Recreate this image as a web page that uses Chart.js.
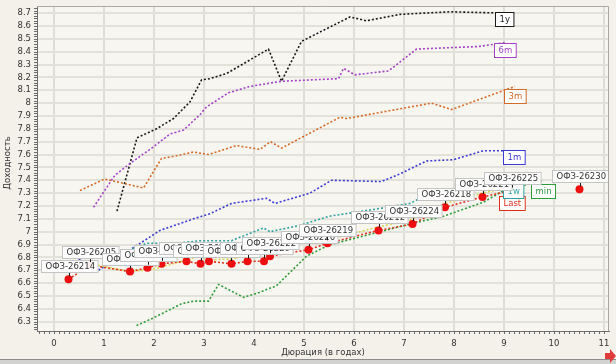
<!DOCTYPE html>
<html>
<head>
<meta charset="utf-8">
<script src="https://cdn.jsdelivr.net/npm/chart.js@4.4.1/dist/chart.umd.min.js"></script>
<style>
    html, body { margin: 0; padding: 0; background: #f3f1ea; }
    #wrap { width: 616px; height: 364px; }
</style>
</head>
<body>
<div id="wrap"><canvas id="graphCanvasYield" width="616" height="364"></canvas></div>
<script>
// кривые доходности ОФЗ: дюрация (лет) / доходность (%)
var dur1y = [1.26, 1.66, 2.05, 2.39, 2.72, 2.95, 3.12, 3.45, 3.85, 4.29, 4.55, 4.95, 5.92, 6.25, 6.92, 7.92, 9.0];
var yld1y = [7.16, 7.73, 7.80, 7.88, 8.01, 8.18, 8.19, 8.23, 8.32, 8.42, 8.17, 8.48, 8.67, 8.64, 8.69, 8.71, 8.70];

var dur6m = [0.79, 1.22, 1.52, 1.99, 2.32, 2.59, 2.92, 3.05, 3.49, 3.92, 4.55, 5.69, 5.79, 6.02, 6.69, 7.25, 8.49, 9.02];
var yld6m = [7.19, 7.44, 7.53, 7.66, 7.76, 7.79, 7.91, 7.97, 8.08, 8.13, 8.17, 8.19, 8.27, 8.22, 8.25, 8.42, 8.44, 8.47];

var dur3m = [0.52, 1.01, 1.79, 2.15, 2.45, 2.79, 3.09, 3.65, 4.12, 4.33, 4.55, 5.72, 5.85, 7.55, 7.95, 9.22];
var yld3m = [7.32, 7.41, 7.34, 7.57, 7.59, 7.62, 7.60, 7.67, 7.64, 7.70, 7.65, 7.89, 7.88, 8.00, 7.95, 8.13];

var dur1m = [0.30, 0.85, 2.12, 2.79, 3.12, 3.55, 4.25, 4.42, 5.12, 5.55, 6.55, 6.92, 7.45, 7.99, 8.59, 9.19];
var yld1m = [6.84, 6.69, 7.01, 7.10, 7.14, 7.22, 7.26, 7.22, 7.30, 7.40, 7.39, 7.45, 7.55, 7.56, 7.63, 7.63];

var dur1w = [0.29, 1.52, 1.85, 2.45, 2.92, 3.55, 4.19, 4.32, 4.92, 5.50, 6.50, 7.12, 7.52, 8.45, 9.19];
var yld1w = [6.86, 6.86, 6.91, 6.91, 6.93, 6.93, 7.03, 7.00, 7.05, 7.12, 7.18, 7.22, 7.30, 7.35, 7.39];

var durMin = [1.65, 1.99, 2.55, 2.79, 3.09, 3.29, 3.79, 4.05, 4.45, 5.05, 5.52, 6.52, 7.12, 7.79, 8.59, 8.99, 9.79];
var yldMin = [6.27, 6.33, 6.44, 6.46, 6.46, 6.59, 6.49, 6.52, 6.58, 6.81, 6.90, 7.00, 7.06, 7.12, 7.23, 7.32, 7.40];

var dur1d = [0.72, 1.52, 2.00, 2.19, 2.92, 3.10, 3.59, 4.32, 4.92, 5.72, 6.52, 7.12, 7.82, 8.57, 9.00];
var yld1d = [6.75, 6.69, 6.71, 6.73, 6.81, 6.78, 6.79, 6.88, 6.95, 6.96, 7.04, 7.09, 7.22, 7.30, 7.34];

// последние сделки по выпускам
var durLast = [0.29, 0.72, 1.52, 1.87, 2.15, 2.65, 2.93, 3.10, 3.55, 3.87, 4.20, 4.32, 5.09, 5.47, 6.49, 7.17, 7.82, 8.57, 9.15];
var yldLast = [6.63, 6.74, 6.69, 6.72, 6.75, 6.77, 6.75, 6.77, 6.75, 6.77, 6.77, 6.81, 6.86, 6.91, 7.01, 7.06, 7.19, 7.27, 7.32];
var bondLast = ['ОФЗ-26214', 'ОФЗ-26205', 'ОФЗ-26217', 'ОФЗ-26209', 'ОФЗ-26220', 'ОФЗ-26211', 'ОФЗ-26215',
    'ОФЗ-26223', 'ОФЗ-26227', 'ОФЗ-26216', 'ОФЗ-26229', 'ОФЗ-26222', 'ОФЗ-26226', 'ОФЗ-26219', 'ОФЗ-26212',
    'ОФЗ-26224', 'ОФЗ-26218', 'ОФЗ-26221', 'ОФЗ-26225'];
var durLong = [10.51];
var yldLong = [7.33];
var bondLong = ['ОФЗ-26230'];

var xTitle = 'Дюрация (в годах)';
var yTitle = 'Доходность';

function pts(xs, ys) {
    var out = [];
    for (var i in xs) {
        out.push({x: xs[i], y: ys[i]});
    }
    return out;
}

function curve(label, xs, ys, color, tagDy) {
    return {
        label: label,
        data: pts(xs, ys),
        showLine: true,
        borderColor: color,
        backgroundColor: color,
        borderWidth: 1.6,
        borderDash: [2, 2],
        pointRadius: 0,
        tag: tagDy !== null,
        tagDy: tagDy
    };
}

var FONT = 'DejaVu Sans';

var lastSet = curve('Last', durLast, yldLast, '#e0301c', 5);
lastSet.pointRadius = 4;
lastSet.pointBackgroundColor = '#ee1010';
lastSet.pointBorderWidth = 0;
lastSet.bonds = bondLast;

var longSet = {
    label: 'Long',
    data: pts(durLong, yldLong),
    showLine: false,
    pointRadius: 4,
    pointBackgroundColor: '#ee1010',
    pointBorderWidth: 0,
    bonds: bondLong
};

var datasets = [
    lastSet,
    longSet,
    curve('1d', dur1d, yld1d, '#d6d64c', null),
    curve('min', durMin, yldMin, '#2e9c3a', 4),
    curve('1w', dur1w, yld1w, '#2ea2a2', 2),
    curve('1m', dur1m, yld1m, '#3c3cd4', -1),
    curve('3m', dur3m, yld3m, '#d66a28', 3),
    curve('6m', dur6m, yld6m, '#a442c6', 0),
    curve('1y', dur1y, yld1y, '#1a1a1a', -1)
];

var yieldDecor = {
    id: 'yieldDecor',
    beforeDraw: function(chart) {
        var ctx = chart.ctx, a = chart.chartArea;
        ctx.save();
        ctx.fillStyle = '#f3f1ea';
        ctx.fillRect(0, 0, chart.width, chart.height);
        ctx.fillStyle = '#f8f6f1';
        ctx.fillRect(a.left, a.top, a.right - a.left, a.bottom - a.top);
        ctx.restore();
    },
    afterDatasetsDraw: function(chart) {
        var ctx = chart.ctx, a = chart.chartArea;
        var xs = chart.scales.x, ys = chart.scales.y;
        ctx.save();
        ctx.beginPath();
        ctx.rect(a.left, a.top, a.right - a.left, a.bottom - a.top);
        ctx.clip();
        ctx.textBaseline = 'middle';

        // подписи кривых на концах
        ctx.font = '8.5px "' + FONT + '"';
        chart.data.datasets.forEach(function(ds) {
            if (!ds.tag) return;
            var p = ds.data[ds.data.length - 1];
            var px = xs.getPixelForValue(p.x), py = ys.getPixelForValue(p.y);
            var w = ctx.measureText(ds.label).width + 8, h = 14;
            var left = Math.round(px - w / 2) + 0.5, top = Math.round(py + ds.tagDy) + 0.5;
            ctx.fillStyle = '#ffffff';
            ctx.fillRect(left, top, w, h);
            ctx.strokeStyle = ds.borderColor;
            ctx.lineWidth = 1;
            ctx.strokeRect(left, top, w, h);
            ctx.fillStyle = ds.borderColor;
            ctx.textAlign = 'center';
            ctx.fillText(ds.label, left + w / 2, top + h / 2 + 0.5);
        });

        // выноски с названиями выпусков
        ctx.font = '8.5px "' + FONT + '"';
        [lastSet, longSet].forEach(function(ds) {
            ds.data.forEach(function(p, i) {
                var px = Math.round(xs.getPixelForValue(p.x)), py = ys.getPixelForValue(p.y);
                var txt = ds.bonds[i];
                var w = ctx.measureText(txt).width + 7, h = 12;
                var bottom = Math.round(py - 7);
                var left = Math.round(px - w / 2) + 0.5, top = bottom - h + 0.5;
                ctx.fillStyle = 'rgba(255,255,255,0.95)';
                ctx.fillRect(left, top, w, h);
                ctx.strokeStyle = '#c4c4c4';
                ctx.lineWidth = 1;
                ctx.strokeRect(left, top, w, h);
                ctx.fillStyle = '#333333';
                ctx.textAlign = 'left';
                ctx.fillText(txt, left + 4, top + h / 2 + 0.5);
                ctx.strokeStyle = '#1a1a1a';
                ctx.beginPath();
                ctx.moveTo(px + 0.5, bottom + 1);
                ctx.lineTo(px + 0.5, py - 3);
                ctx.stroke();
            });
        });
        ctx.restore();
    },
    afterDraw: function(chart) {
        var ctx = chart.ctx, a = chart.chartArea;
        var xs = chart.scales.x, ys = chart.scales.y;
        ctx.save();
        // рамка сверху и справа
        ctx.strokeStyle = '#a8a8a2';
        ctx.lineWidth = 1;
        ctx.beginPath();
        ctx.moveTo(a.left, a.top + 0.5);
        ctx.lineTo(a.right - 0.5, a.top + 0.5);
        ctx.lineTo(a.right - 0.5, a.bottom);
        ctx.stroke();

        // мелкие засечки
        ctx.strokeStyle = '#6a6a6a';
        ctx.beginPath();
        for (var t = -3; t <= 111; t++) {
            var x = Math.round(xs.getPixelForValue(t / 10)) + 0.5;
            if (x < a.left || x > a.right) continue;
            ctx.moveTo(x, a.bottom);
            ctx.lineTo(x, a.bottom + 3);
        }
        for (var k = 312; k <= 437; k++) {
            var y = Math.round(ys.getPixelForValue(k / 50)) + 0.5;
            if (y < a.top || y > a.bottom) continue;
            ctx.moveTo(a.left - 3, y);
            ctx.lineTo(a.left, y);
        }
        ctx.stroke();

        // названия осей
        ctx.fillStyle = '#333333';
        ctx.font = '8.5px "' + FONT + '"';
        ctx.textAlign = 'center';
        ctx.textBaseline = 'middle';
        ctx.fillText(xTitle, (a.left + a.right) / 2, 353);
        ctx.translate(8, 163);
        ctx.rotate(-Math.PI / 2);
        ctx.fillText(yTitle, 0, 0);
        ctx.setTransform(1, 0, 0, 1, 0, 0);

        // нижняя полоса окна и значок
        ctx.fillStyle = '#8c8c8c';
        ctx.fillRect(0, 359, chart.width, 1);
        ctx.fillStyle = '#d2d2d0';
        ctx.fillRect(0, 360, chart.width, 4);
        ctx.fillStyle = '#e03a3a';
        ctx.fillRect(605, 353, 6, 6);
        ctx.beginPath();
        ctx.moveTo(610, 349);
        ctx.lineTo(616, 356);
        ctx.lineTo(610, 363);
        ctx.closePath();
        ctx.fill();
        ctx.restore();
    }
};

var tickFont = {family: FONT, size: 8.5};

var graphTarget = document.getElementById('graphCanvasYield');
var yieldChart = new Chart(graphTarget, {
    type: 'scatter',
    data: {datasets: datasets},
    options: {
        responsive: false,
        animation: false,
        layout: {padding: {left: 0, right: 7, top: 6, bottom: 0}},
        plugins: {
            legend: {display: false},
            tooltip: {enabled: false}
        },
        scales: {
            x: {
                type: 'linear',
                min: -0.34,
                max: 11.1,
                ticks: {stepSize: 1, includeBounds: false, padding: 8, color: '#333333', font: tickFont, maxRotation: 0, autoSkip: false},
                grid: {color: '#deddd6', lineWidth: 2, drawTicks: false},
                border: {display: true, color: '#6e6e6e', width: 1},
                afterFit: function(s) { s.height = 33; s.paddingLeft = 0; s.paddingRight = 0; }
            },
            y: {
                type: 'linear',
                min: 6.228,
                max: 8.755,
                ticks: {
                    stepSize: 0.1, includeBounds: false, padding: 6, color: '#333333', font: tickFont, autoSkip: false,
                    callback: function(v) { return String(+v.toFixed(1)); }
                },
                grid: {color: '#e2e1da', lineWidth: 2, drawTicks: false},
                border: {display: true, color: '#6e6e6e', width: 1},
                afterFit: function(s) { s.width = 37; s.paddingTop = 0; s.paddingBottom = 0; }
            }
        }
    },
    plugins: [yieldDecor]
});
</script>
</body>
</html>
